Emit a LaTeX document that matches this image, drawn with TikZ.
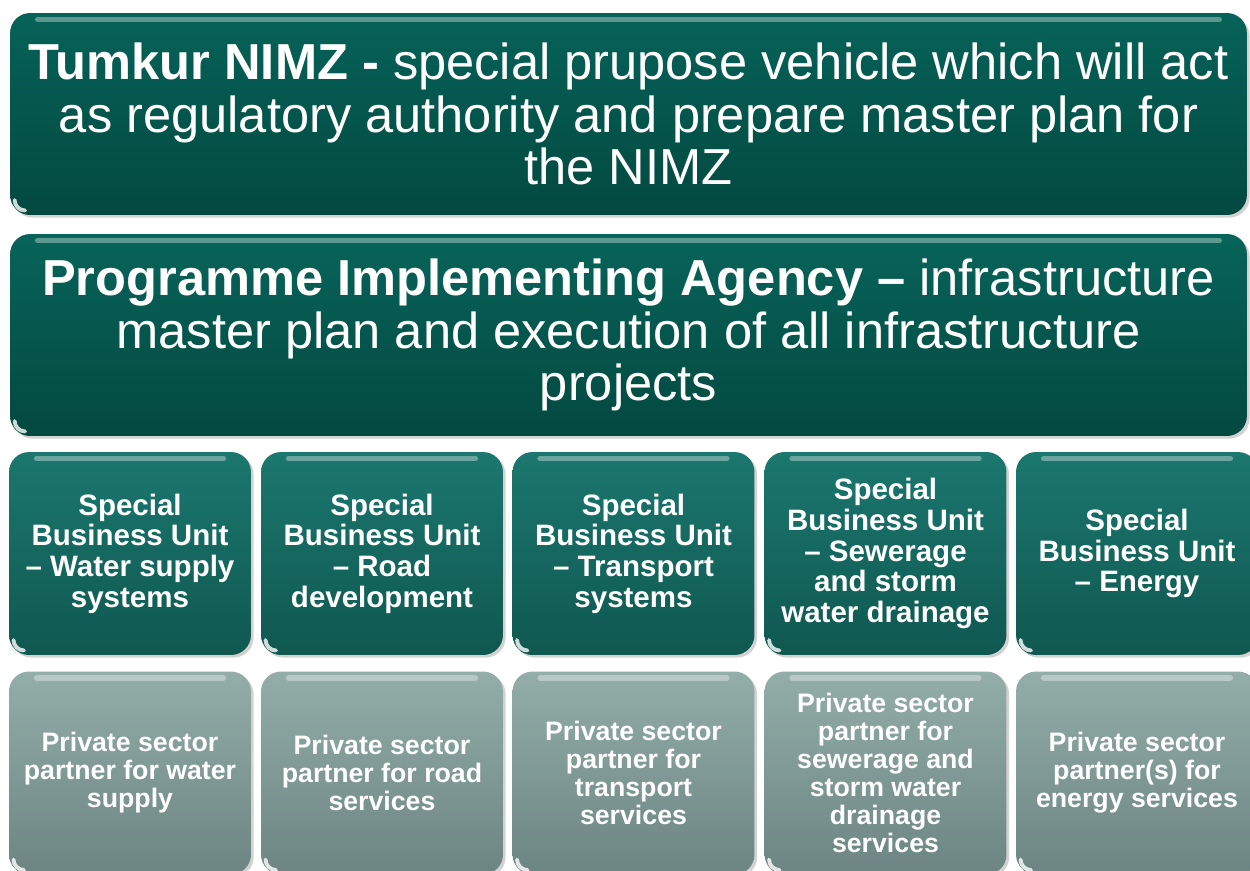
\documentclass[tikz,border=0pt]{standalone}
\usepackage{fontspec}
\setmainfont{Liberation Sans}
\usepackage{tikz}
\usetikzlibrary{shadows}
\usepackage{xcolor}
\definecolor{headtop}{HTML}{066258}
\definecolor{headbot}{HTML}{034940}
\definecolor{unittop}{HTML}{1B776F}
\definecolor{unitbot}{HTML}{0F5850}
\definecolor{parttop}{HTML}{93ADA9}
\definecolor{partbot}{HTML}{6C8582}

\begin{document}
\begin{tikzpicture}[x=0.02cm, y=-0.02cm,
    box/.style={rounded corners=0.4cm, align=center, text=white, inner sep=0pt,
        drop shadow={opacity=0.35, shadow xshift=1.5pt, shadow yshift=-1.5pt},
        path picture={
            % glossy strip along the top and a glint in the lower left corner
            \draw[white, opacity=0.35, line width=3pt, line cap=round]
                ([xshift=0.55cm, yshift=-0.13cm]path picture bounding box.north west) --
                ([xshift=-0.55cm, yshift=-0.13cm]path picture bounding box.north east);
            \draw[white, opacity=0.8, line width=2.2pt, line cap=round]
                ([xshift=0.09cm, yshift=0.3cm]path picture bounding box.south west)
                arc (180:270:0.21cm);
        }},
    headbox/.style={box, top color=headtop, bottom color=headbot,
        minimum width=24.74cm, minimum height=4.04cm, font=\fontsize{28.8}{29.8}\selectfont},
    unitbox/.style={box, top color=unittop, bottom color=unitbot,
        minimum width=4.84cm, minimum height=4.06cm, font=\bfseries\fontsize{16.8}{17.4}\selectfont},
    partbox/.style={box, top color=parttop, bottom color=partbot,
        minimum width=4.84cm, minimum height=4.06cm, font=\bfseries\fontsize{15.2}{15.9}\selectfont}]
    \useasboundingbox (0,0) rectangle (1250,870);
    \fill[white] (0,0) rectangle (1250,870);

    % Top level
    \node[headbox] (nimz) at (628.5,114)
        {\textbf{Tumkur NIMZ -} special prupose vehicle which will act\\
         as regulatory authority and prepare master plan for\\
         the NIMZ};
    \node[headbox, top color=headtop!92!unittop] (pia) at (628.5,335)
        {\textbf{Programme Implementing Agency --} infrastructure\\
         master plan and execution of all infrastructure\\
         projects};

    % Special business units
    \node[unitbox] (sbu1) at (130,553.5) {Special\\Business Unit\\-- Water supply\\systems};
    \node[unitbox] (sbu2) at (382,553.5) {Special\\Business Unit\\-- Road\\development};
    \node[unitbox] (sbu3) at (633.5,553.5) {Special\\Business Unit\\-- Transport\\systems};
    \node[unitbox] (sbu4) at (885.5,553.5) {Special\\Business Unit\\-- Sewerage\\and storm\\water drainage};
    \node[unitbox] (sbu5) at (1137,553.5) {Special\\Business Unit\\-- Energy};

    % Private sector partners
    \node[partbox] (psp1) at (130,773) {Private sector\\partner for water\\supply};
    \node[partbox] (psp2) at (382,773) {Private sector\\partner for road\\services};
    \node[partbox] (psp3) at (633.5,773) {Private sector\\partner for\\transport\\services};
    \node[partbox] (psp4) at (885.5,773) {Private sector\\partner for\\sewerage and\\storm water\\drainage\\services};
    \node[partbox] (psp5) at (1137,773) {Private sector\\partner(s) for\\energy services};
\end{tikzpicture}
\end{document}
